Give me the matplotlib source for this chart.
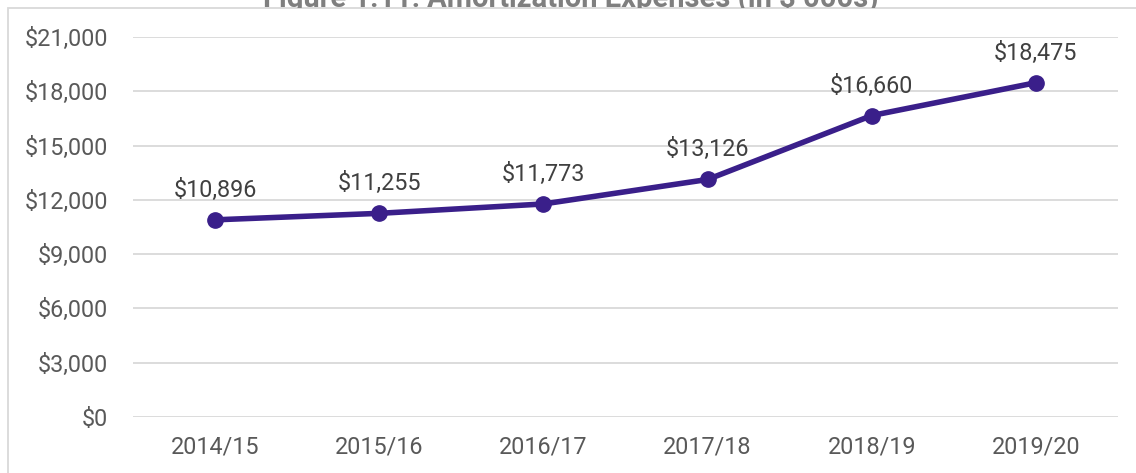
import matplotlib.pyplot as plt
from matplotlib.patches import Rectangle
from matplotlib.ticker import FuncFormatter

plt.rcParams['font.family'] = ['Roboto', 'DejaVu Sans']

years = ['2014/15', '2015/16', '2016/17', '2017/18', '2018/19', '2019/20']
expenses = [10896, 11255, 11773, 13126, 16660, 18475]
title = 'Figure 1.11: Amortization Expenses (in $ 000s)'

W, H = 1136, 473
fig = plt.figure(figsize=(W / 100, H / 100), dpi=100)
ax = fig.add_axes([133 / W, 1 - 417 / H, (1118 - 133) / W, (417 - 37) / H])

x = range(len(years))
ax.plot(x, expenses, color='#3a1f8a', lw=4, marker='o', ms=11, solid_capstyle='round')
for i, v in enumerate(expenses):
    ax.annotate('${:,}'.format(v), (i, v), xytext=(0, 13), textcoords='offset points',
                ha='center', va='bottom', fontsize=16.8, color='#404040')

ax.set_xlim(-0.5, len(years) - 0.5)
ax.set_ylim(0, 21000)
ax.set_yticks(range(0, 21001, 3000))
ax.yaxis.set_major_formatter(FuncFormatter(lambda v, p: '${:,.0f}'.format(v)))
ax.set_xticks(list(x))
ax.set_xticklabels(years)
ax.grid(axis='y', color='#d9d9d9', lw=1.3)
ax.set_axisbelow(True)
for s in ax.spines.values():
    s.set_visible(False)
ax.tick_params(length=0, labelsize=16.8, labelcolor='#595959')
ax.tick_params(axis='y', pad=18)
ax.tick_params(axis='x', pad=13)

# chart border (cropped) and clipped title
fig.add_artist(Rectangle((8 / W, -0.1), 1.2, 1 - 8 / H + 0.1, transform=fig.transFigure,
                         fill=False, edgecolor='#d9d9d9', lw=1.3))
t = fig.text(571 / W, 1 - 6 / H, title, ha='center', va='baseline', fontsize=21,
             fontweight='bold', color='#7f7f7f')
clip = Rectangle((0, 1 - 8 / H), 1, 8 / H, transform=fig.transFigure)
t.set_clip_path(clip)

fig.savefig('out.png', dpi=100)
